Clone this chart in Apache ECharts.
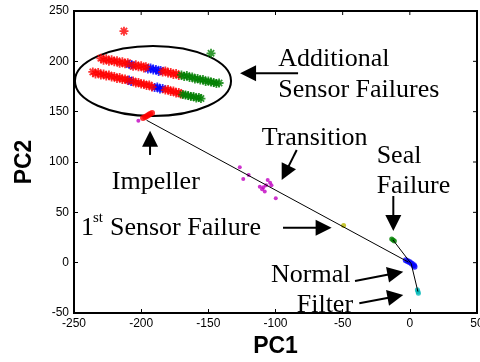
<!DOCTYPE html>
<html>
<head>
<meta charset="utf-8">
<script src="https://cdn.jsdelivr.net/npm/echarts@6/dist/echarts.min.js"></script>
<style>
html, body { margin: 0; padding: 0; background: #fff; }
#chart { width: 480px; height: 362px; }
</style>
</head>
<body>
<div id="chart"></div>
<script>
// PCA scores (PC1, PC2)
const xTicks = [-250, -200, -150, -100, -50, 0, 50];
const yTicks = [-50, 0, 50, 100, 150, 200, 250];

const sensorBlue = [
  [-209, 197], [-207, 196.5], [-195, 192.5], [-193, 193.5], [-191, 191.5], [-189, 192], [-187, 190], [-185.5, 191],
  [-209, 181.5], [-207.5, 180], [-190, 174], [-188, 174.5], [-186, 172.5], [-184, 173]
];
const sensorRed = [
  [-230, 203], [-228, 201], [-226, 202.5], [-224, 200], [-222, 201.5], [-220, 199.5], [-218, 200.5], [-216, 198],
  [-214, 199.5], [-212, 197.5], [-210, 198.5], [-206, 195], [-204, 196.5], [-202, 194.5], [-200, 195.5], [-198, 193.5],
  [-196.5, 194.5], [-184, 189.5], [-182, 190.5], [-180, 188.5], [-178, 189], [-176, 187], [-174, 188], [-172, 186],
  [-236, 189.5], [-234, 187.5], [-232, 189], [-230, 186.5], [-228, 187.5], [-226, 185.5], [-224, 186.5], [-222, 184.5],
  [-220, 185], [-218, 183], [-216, 184], [-214, 182], [-212, 182.5], [-210, 181], [-206, 180.5], [-204, 178.5],
  [-202, 179], [-200, 177.5], [-198, 177.5], [-196, 176], [-194, 176.5], [-192, 174.5], [-182, 171.5], [-180, 172],
  [-178, 170], [-176, 170.5], [-174, 168.5], [-172, 169], [-170.5, 167.5],
  [-212.8, 230]
];
const sensorGreen = [
  [-170, 186.5], [-168, 185], [-166, 186], [-164, 184], [-162, 184.5], [-160, 182.5], [-158, 183], [-156, 181.5],
  [-154, 182], [-152, 180], [-150, 180.5], [-148, 179.5], [-146, 179], [-144, 178], [-142, 178.5],
  [-169, 167], [-167, 166.5], [-165, 166], [-163, 165], [-161, 165], [-159, 163.5], [-157, 164], [-155.5, 163],
  [-148, 208]
];
const impellerRed = [[-198.6, 143.7], [-197, 144.8], [-195.7, 145.7], [-194.5, 146.8], [-193.4, 147.7], [-191.9, 148.7]];
const transition = [
  [-202.1, 141], [-126.6, 94.7], [-120, 87], [-124, 83], [-105.8, 82], [-104, 79.5], [-107, 77], [-103, 77],
  [-111.7, 75.5], [-109, 75], [-110, 73], [-108, 70.6], [-99.8, 64]
];
const firstSensor = [[-49.3, 36.8]];
const sealFailure = [[-13.5, 23.5], [-12.5, 22.5], [-11.5, 21.5]];
const normalOp = [[-3, 2.5], [-1.5, 1.5], [0, 0.5], [1.5, -1], [3, -2.5], [3.5, -4]];
const filterFail = [[5.6, -27], [6, -28.7], [6.4, -30.3]];
const trackMain = [[-196, 141.5], [-1, 0.5]];
const trackSide = [[-12.5, 22.5], [1, -1], [6, -28.7]];

// annotation text: [label, left x, baseline y] in PC units
const notes = [
  ['Additional', -97.9, 194.7], ['Sensor Failures', -97.9, 164.3], ['Transition', -110.3, 116.9],
  ['Seal', -24.7, 98.7], ['Failure', -24.7, 68.9], ['Impeller', -221.9, 73.2],
  ['1', -244.8, 27.5], ['Sensor Failure', -223.2, 27.5], ['Normal', -103.3, -18.9], ['Filter', -84.2, -48.7]
];
const superNotes = [['st', -235.9, 40.4]];
// arrows: [fromX, fromY, tipX, tipY]
const arrows = [
  [-83.2, 188.1, -126.4, 188.1], [-193.4, 107, -193.4, 131.1], [-84.2, 111.9, -95.4, 82.1],
  [-12.3, 66.2, -12.3, 31.5], [-94.4, 34.7, -58.2, 34.7], [-40.8, -18.2, -4.9, -9], [-37.6, -40.4, -4.9, -32.1]
];
const ring = [-191.2, 180.5, 58.1, 34.8];

const star = 'path://M4 0H6V10H4Z M0 4H10V6H0Z M0.8 2.2L2.2 0.8L9.2 7.8L7.8 9.2Z M7.8 0.8L9.2 2.2L2.2 9.2L0.8 7.8Z';
const labelFont = { color: '#000', fontFamily: 'Liberation Sans', fontSize: 12 };

function dots(data, color, size, symbol) {
  return {
    type: 'scatter', data: data, symbol: symbol || 'circle', symbolSize: size,
    itemStyle: { color: color }, silent: true
  };
}

const chart = echarts.init(document.getElementById('chart'));
chart.setOption({
  animation: false,
  grid: {
    left: 74, right: 3, top: 11, bottom: 49, outerBoundsMode: 'none',
    show: true, borderColor: '#000', borderWidth: 2
  },
  xAxis: {
    type: 'value', min: xTicks[0], max: xTicks[xTicks.length - 1], interval: 50,
    name: 'PC1', nameLocation: 'middle', nameGap: 21,
    nameTextStyle: { color: '#000', fontFamily: 'Liberation Sans', fontWeight: 'bold', fontSize: 23 },
    axisLine: { onZero: false, lineStyle: { color: '#000', width: 2 } },
    axisTick: { inside: true, length: 4, lineStyle: { color: '#000' } },
    axisLabel: Object.assign({ margin: 5 }, labelFont),
    splitLine: { show: false }
  },
  yAxis: {
    type: 'value', min: yTicks[0], max: yTicks[yTicks.length - 1], interval: 50,
    name: 'PC2', nameLocation: 'middle', nameGap: 38,
    nameTextStyle: { color: '#000', fontFamily: 'Liberation Sans', fontWeight: 'bold', fontSize: 23 },
    axisLine: { onZero: false, lineStyle: { color: '#000', width: 2 } },
    axisTick: { inside: true, length: 4, lineStyle: { color: '#000' } },
    axisLabel: Object.assign({ margin: 5 }, labelFont),
    splitLine: { show: false }
  },
  series: [
    { type: 'line', data: trackMain, symbol: 'none', lineStyle: { color: '#000', width: 1 }, silent: true },
    { type: 'line', data: trackSide, symbol: 'none', lineStyle: { color: '#000', width: 1 }, silent: true },
    dots(sensorBlue, '#0000ff', 9, star),
    dots(sensorRed, '#ff0000', 9, star),
    dots(sensorGreen, '#008000', 9, star),
    dots(impellerRed, '#ff0000', 6),
    dots(transition, '#c000c0', 4),
    dots(firstSensor, '#b8b800', 5),
    dots(sealFailure, '#008000', 5),
    dots(normalOp, '#0000ff', 6),
    dots(filterFail, '#00b8b8', 5)
  ]
});

function px(p) { return chart.convertToPixel({ seriesIndex: 0 }, p); }

const graphics = [];
// top and right edges of the box, with inward ticks
const tl = px([xTicks[0], yTicks[yTicks.length - 1]]);
const br = px([xTicks[xTicks.length - 1], yTicks[0]]);
graphics.push({ type: 'line', z: 200, shape: { x1: tl[0], y1: tl[1], x2: br[0], y2: tl[1] }, style: { stroke: '#000', lineWidth: 2 }, silent: true });
graphics.push({ type: 'line', z: 200, shape: { x1: br[0], y1: tl[1], x2: br[0], y2: br[1] }, style: { stroke: '#000', lineWidth: 2 }, silent: true });
xTicks.forEach(v => {
  const p = px([v, yTicks[0]]);
  graphics.push({ type: 'line', z: 200, shape: { x1: p[0], y1: tl[1], x2: p[0], y2: tl[1] + 4 }, style: { stroke: '#000', lineWidth: 1 }, silent: true });
});
yTicks.forEach(v => {
  const p = px([xTicks[0], v]);
  graphics.push({ type: 'line', z: 200, shape: { x1: br[0], y1: p[1], x2: br[0] - 4, y2: p[1] }, style: { stroke: '#000', lineWidth: 1 }, silent: true });
});
const c = px([ring[0], ring[1]]);
const e = px([ring[0] + ring[2], ring[1] + ring[3]]);
graphics.push({
  type: 'ellipse', shape: { cx: c[0], cy: c[1], rx: e[0] - c[0], ry: c[1] - e[1] },
  style: { fill: 'none', stroke: '#000', lineWidth: 2 }, silent: true
});
notes.forEach(n => {
  const p = px([n[1], n[2]]);
  graphics.push({
    type: 'text', x: p[0], y: p[1] - 7,
    style: { text: n[0], fill: '#000', font: '26px "Liberation Serif"', align: 'left', verticalAlign: 'middle' }
  });
});
superNotes.forEach(n => {
  const p = px([n[1], n[2]]);
  graphics.push({
    type: 'text', x: p[0], y: p[1] - 4,
    style: { text: n[0], fill: '#000', font: '15px "Liberation Serif"', align: 'left', verticalAlign: 'middle' }
  });
});
arrows.forEach(a => {
  const s = px([a[0], a[1]]);
  const t = px([a[2], a[3]]);
  const dx = t[0] - s[0], dy = t[1] - s[1];
  const len = Math.sqrt(dx * dx + dy * dy);
  const ux = dx / len, uy = dy / len;
  const bx = t[0] - ux * 16, by = t[1] - uy * 16;
  graphics.push({
    type: 'line', shape: { x1: s[0], y1: s[1], x2: bx + ux, y2: by + uy },
    style: { stroke: '#000', lineWidth: 2 }, silent: true
  });
  graphics.push({
    type: 'polygon',
    shape: { points: [[t[0], t[1]], [bx - uy * 8, by + ux * 8], [bx + uy * 8, by - ux * 8]] },
    style: { fill: '#000' }, silent: true
  });
});
chart.setOption({ graphic: { elements: graphics } });
</script>
</body>
</html>
